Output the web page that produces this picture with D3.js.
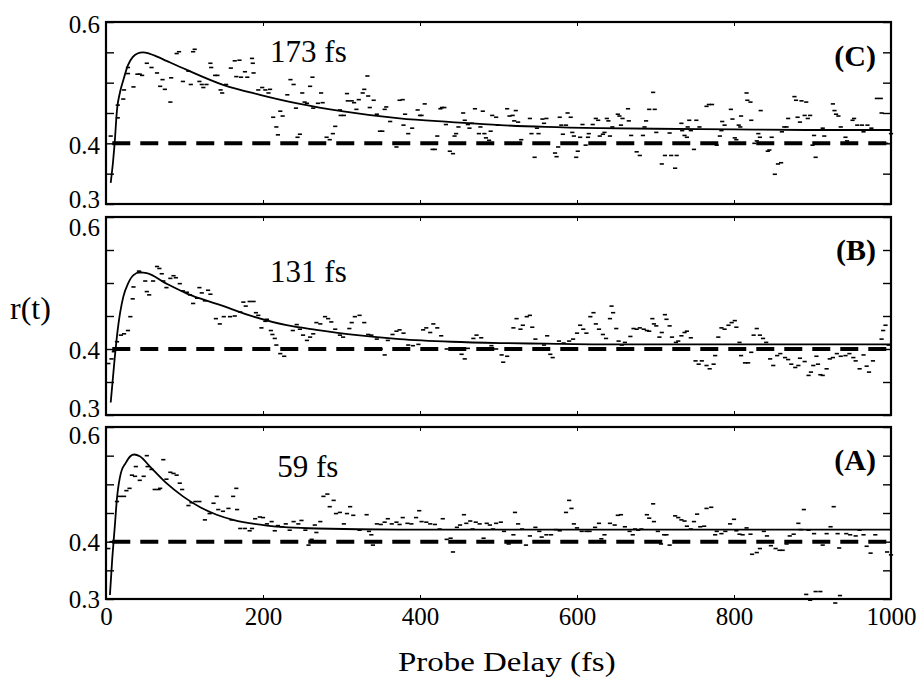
<!DOCTYPE html>
<html>
<head>
<meta charset="utf-8">
<script src="https://cdn.jsdelivr.net/npm/d3@7"></script>
<style>
  body { margin: 0; background: #fff; }
  svg text { font-family: "Liberation Serif", "Times New Roman", serif; }
</style>
</head>
<body>
<div id="chart"></div>
<script>
// Probe delay (fs) vs r(t), three panels
const xTicks = [0, 200, 400, 600, 800, 1000];
const yTicks = [0.3, 0.35, 0.4, 0.45, 0.5, 0.55, 0.6];
const yLabelled = [0.3, 0.4, 0.6];
const baseline = 0.4;

// fitted curves [delay, r]
const curveC = [[6,0.335],[9,0.37],[11,0.40],[14,0.455],[18,0.485],[22,0.504],[28,0.529],[34,0.542],[40,0.548],[47,0.55],[55,0.548],[65,0.543],[77,0.536],[103,0.521],[150,0.496],[196,0.48],[247,0.465],[300,0.453],[374,0.441],[440,0.435],[502,0.43],[560,0.427],[629,0.425],[700,0.424],[800,0.423],[900,0.422],[1000,0.422]];
const curveB = [[6,0.319],[11,0.385],[15,0.43],[22,0.479],[28,0.499],[35,0.512],[43,0.516],[52,0.515],[77,0.499],[103,0.484],[145,0.467],[188,0.449],[230,0.436],[268,0.429],[320,0.421],[374,0.415],[440,0.411],[502,0.409],[560,0.408],[629,0.407],[800,0.407],[1000,0.407]];
const curveA = [[5,0.307],[8,0.371],[11,0.423],[14,0.476],[19,0.52],[25,0.537],[31,0.549],[36,0.552],[43,0.549],[56,0.531],[77,0.502],[98,0.479],[120,0.46],[141,0.447],[162,0.438],[205,0.428],[268,0.423],[374,0.421],[600,0.421],[1000,0.421]];

// measured points [delay, r]
const pointsC = [[6,0.412],[15,0.442],[15,0.463],[22,0.473],[23,0.488],[28,0.515],[28,0.525],[35,0.493],[40,0.514],[43,0.514],[46,0.512],[52,0.532],[58,0.525],[65,0.516],[69,0.494],[72,0.505],[75,0.489],[82,0.468],[83,0.508],[90,0.548],[93,0.551],[98,0.502],[105,0.519],[108,0.497],[111,0.551],[113,0.555],[119,0.502],[122,0.497],[124,0.492],[128,0.497],[133,0.532],[134,0.525],[139,0.512],[142,0.512],[146,0.488],[148,0.483],[153,0.497],[159,0.524],[164,0.536],[166,0.51],[170,0.537],[172,0.509],[177,0.518],[180,0.509],[186,0.54],[187,0.532],[188,0.516],[194,0.488],[199,0.492],[203,0.488],[207,0.483],[209,0.489],[213,0.443],[217,0.427],[219,0.414],[222,0.453],[225,0.445],[231,0.48],[235,0.505],[239,0.497],[242,0.458],[244,0.41],[247,0.415],[250,0.483],[253,0.468],[256,0.466],[260,0.494],[263,0.509],[264,0.458],[270,0.466],[274,0.483],[276,0.467],[281,0.41],[285,0.406],[289,0.416],[292,0.428],[298,0.455],[299,0.446],[303,0.446],[307,0.482],[308,0.47],[313,0.47],[316,0.467],[319,0.456],[322,0.472],[327,0.483],[329,0.489],[333,0.511],[334,0.478],[336,0.459],[341,0.471],[345,0.448],[349,0.42],[352,0.42],[355,0.456],[357,0.46],[362,0.436],[368,0.4],[370,0.394],[374,0.471],[378,0.472],[379,0.43],[381,0.448],[385,0.416],[390,0.425],[397,0.455],[400,0.446],[402,0.446],[406,0.465],[416,0.39],[419,0.39],[422,0.412],[426,0.457],[428,0.459],[431,0.459],[433,0.431],[438,0.387],[442,0.383],[444,0.412],[446,0.416],[449,0.427],[455,0.45],[457,0.438],[461,0.431],[463,0.425],[466,0.433],[470,0.457],[475,0.416],[477,0.427],[480,0.453],[482,0.416],[484,0.409],[488,0.405],[490,0.42],[492,0.446],[497,0.443],[499,0.43],[511,0.457],[514,0.445],[518,0.446],[520,0.437],[522,0.454],[525,0.435],[529,0.406],[540,0.441],[542,0.416],[546,0.377],[549,0.425],[551,0.416],[556,0.44],[558,0.433],[561,0.441],[572,0.384],[574,0.378],[576,0.394],[578,0.443],[580,0.43],[582,0.415],[586,0.43],[588,0.45],[592,0.443],[594,0.418],[596,0.412],[599,0.377],[601,0.387],[604,0.41],[607,0.431],[611,0.397],[614,0.41],[615,0.416],[620,0.431],[624,0.441],[627,0.438],[629,0.412],[633,0.415],[635,0.418],[638,0.441],[640,0.437],[642,0.412],[645,0.427],[652,0.448],[654,0.445],[656,0.43],[658,0.441],[665,0.457],[666,0.437],[669,0.413],[676,0.386],[680,0.38],[684,0.413],[686,0.427],[688,0.437],[692,0.456],[697,0.484],[699,0.456],[701,0.418],[705,0.4],[708,0.366],[712,0.38],[718,0.417],[720,0.38],[725,0.359],[727,0.38],[733,0.433],[734,0.421],[737,0.413],[740,0.41],[741,0.427],[743,0.438],[745,0.421],[749,0.39],[752,0.438],[756,0.427],[765,0.461],[768,0.464],[772,0.464],[778,0.397],[782,0.412],[784,0.421],[785,0.436],[788,0.43],[796,0.456],[798,0.44],[801,0.409],[803,0.406],[806,0.43],[808,0.427],[809,0.445],[816,0.483],[817,0.471],[821,0.468],[822,0.438],[826,0.4],[829,0.404],[831,0.416],[833,0.41],[834,0.454],[843,0.387],[845,0.389],[848,0.41],[852,0.349],[856,0.366],[860,0.368],[861,0.419],[864,0.427],[867,0.427],[869,0.441],[877,0.477],[879,0.471],[881,0.443],[884,0.435],[886,0.47],[890,0.446],[892,0.468],[894,0.441],[897,0.446],[900,0.397],[902,0.413],[904,0.377],[907,0.4],[910,0.4],[913,0.425],[915,0.412],[926,0.465],[928,0.454],[930,0.448],[933,0.445],[936,0.427],[942,0.41],[944,0.404],[951,0.438],[953,0.441],[957,0.43],[963,0.43],[965,0.419],[970,0.43],[975,0.425],[982,0.474],[987,0.474],[988,0.45],[994,0.4],[1000,0.416]];

const pointsB = [[3,0.378],[7,0.385],[10,0.396],[14,0.411],[19,0.421],[23,0.423],[28,0.428],[31,0.449],[34,0.476],[35,0.494],[42,0.518],[43,0.516],[50,0.503],[52,0.487],[55,0.482],[60,0.503],[65,0.525],[68,0.522],[71,0.514],[73,0.503],[77,0.493],[82,0.507],[86,0.511],[89,0.508],[94,0.499],[98,0.488],[103,0.486],[107,0.482],[111,0.469],[116,0.477],[119,0.493],[122,0.485],[126,0.473],[130,0.489],[133,0.483],[140,0.446],[145,0.438],[150,0.449],[158,0.449],[164,0.45],[171,0.456],[175,0.471],[178,0.465],[183,0.472],[188,0.472],[191,0.455],[194,0.451],[198,0.432],[203,0.442],[205,0.445],[210,0.428],[212,0.422],[215,0.416],[217,0.406],[222,0.393],[227,0.389],[238,0.428],[243,0.437],[247,0.43],[251,0.421],[256,0.413],[260,0.418],[264,0.423],[268,0.44],[273,0.438],[279,0.449],[283,0.446],[287,0.441],[292,0.43],[298,0.421],[302,0.418],[310,0.431],[313,0.44],[317,0.449],[323,0.451],[329,0.44],[334,0.422],[338,0.421],[345,0.415],[350,0.4],[355,0.391],[359,0.413],[365,0.422],[370,0.427],[374,0.429],[379,0.424],[385,0.406],[391,0.405],[398,0.407],[404,0.429],[408,0.432],[413,0.425],[417,0.438],[422,0.432],[427,0.42],[434,0.4],[440,0.401],[447,0.4],[453,0.392],[457,0.385],[461,0.401],[468,0.416],[472,0.421],[478,0.417],[485,0.4],[491,0.405],[497,0.4],[504,0.391],[506,0.38],[511,0.389],[519,0.432],[523,0.446],[528,0.43],[531,0.436],[536,0.449],[540,0.451],[543,0.433],[547,0.415],[554,0.4],[558,0.406],[562,0.42],[566,0.392],[569,0.387],[577,0.412],[583,0.409],[590,0.412],[595,0.415],[600,0.424],[604,0.436],[608,0.43],[612,0.424],[617,0.449],[621,0.455],[624,0.438],[628,0.43],[633,0.422],[637,0.416],[642,0.446],[644,0.465],[646,0.455],[650,0.431],[653,0.412],[657,0.406],[661,0.41],[668,0.419],[672,0.431],[676,0.43],[680,0.432],[685,0.43],[689,0.428],[692,0.427],[696,0.446],[698,0.438],[701,0.435],[705,0.418],[708,0.425],[712,0.452],[714,0.445],[718,0.435],[721,0.418],[726,0.41],[729,0.412],[733,0.42],[737,0.425],[740,0.427],[745,0.417],[751,0.382],[755,0.377],[759,0.382],[765,0.375],[769,0.37],[774,0.377],[776,0.39],[780,0.418],[784,0.432],[788,0.43],[793,0.436],[797,0.44],[801,0.443],[803,0.433],[807,0.41],[809,0.39],[814,0.379],[818,0.379],[822,0.395],[825,0.421],[829,0.431],[833,0.421],[837,0.416],[841,0.41],[846,0.385],[850,0.375],[855,0.39],[859,0.393],[865,0.387],[869,0.384],[873,0.377],[878,0.372],[882,0.375],[884,0.386],[890,0.381],[895,0.36],[898,0.365],[901,0.375],[905,0.389],[907,0.377],[910,0.361],[913,0.36],[918,0.37],[922,0.385],[926,0.387],[931,0.393],[936,0.389],[942,0.39],[947,0.393],[952,0.387],[955,0.382],[960,0.37],[965,0.391],[969,0.374],[972,0.365],[977,0.382],[988,0.415],[990,0.428],[993,0.436],[997,0.406]];

const pointsA = [[3,0.388],[7,0.4],[14,0.47],[18,0.479],[23,0.479],[26,0.489],[30,0.493],[33,0.516],[37,0.514],[38,0.531],[43,0.507],[48,0.514],[52,0.55],[53,0.531],[58,0.526],[62,0.491],[67,0.491],[69,0.493],[73,0.543],[77,0.509],[82,0.521],[86,0.519],[90,0.516],[94,0.502],[97,0.491],[105,0.463],[109,0.468],[114,0.47],[119,0.47],[126,0.438],[132,0.449],[137,0.467],[141,0.479],[143,0.456],[149,0.453],[156,0.458],[160,0.438],[162,0.479],[166,0.493],[167,0.456],[171,0.423],[177,0.423],[183,0.419],[186,0.423],[190,0.44],[196,0.443],[200,0.442],[205,0.431],[211,0.435],[215,0.419],[219,0.428],[224,0.426],[229,0.431],[234,0.42],[239,0.435],[245,0.431],[249,0.437],[254,0.42],[258,0.394],[262,0.404],[266,0.429],[268,0.416],[273,0.435],[277,0.479],[282,0.483],[285,0.461],[290,0.472],[293,0.449],[298,0.451],[303,0.431],[307,0.449],[311,0.461],[315,0.446],[323,0.42],[332,0.447],[335,0.418],[338,0.412],[340,0.394],[345,0.431],[350,0.43],[355,0.434],[359,0.44],[364,0.431],[370,0.434],[374,0.43],[378,0.442],[384,0.432],[389,0.431],[395,0.442],[399,0.454],[402,0.435],[408,0.434],[413,0.431],[419,0.43],[425,0.422],[429,0.44],[434,0.404],[439,0.406],[442,0.382],[447,0.425],[451,0.429],[456,0.447],[459,0.432],[464,0.436],[467,0.422],[471,0.434],[476,0.431],[481,0.406],[485,0.432],[489,0.429],[493,0.422],[497,0.432],[503,0.434],[507,0.418],[513,0.396],[519,0.412],[521,0.451],[525,0.431],[530,0.422],[535,0.394],[540,0.41],[547,0.425],[552,0.418],[555,0.408],[561,0.412],[567,0.412],[573,0.421],[578,0.419],[586,0.451],[590,0.472],[593,0.458],[596,0.431],[600,0.424],[606,0.418],[612,0.418],[616,0.418],[623,0.425],[628,0.432],[631,0.405],[635,0.412],[642,0.432],[648,0.429],[652,0.446],[656,0.447],[661,0.426],[667,0.418],[671,0.412],[674,0.422],[678,0.42],[682,0.422],[689,0.447],[692,0.441],[697,0.466],[698,0.435],[703,0.418],[707,0.396],[711,0.412],[714,0.412],[718,0.394],[725,0.445],[729,0.442],[733,0.438],[737,0.436],[740,0.427],[745,0.422],[749,0.435],[753,0.448],[757,0.426],[762,0.427],[765,0.458],[771,0.46],[776,0.412],[778,0.418],[784,0.414],[789,0.418],[795,0.431],[800,0.439],[803,0.419],[807,0.413],[811,0.412],[816,0.424],[821,0.413],[823,0.378],[829,0.381],[833,0.388],[838,0.418],[842,0.41],[847,0.393],[853,0.388],[858,0.385],[862,0.385],[867,0.396],[871,0.41],[876,0.413],[882,0.432],[885,0.421],[889,0.456],[892,0.308],[895,0.42],[897,0.298],[902,0.414],[904,0.313],[910,0.313],[913,0.394],[918,0.414],[923,0.426],[927,0.461],[929,0.293],[932,0.414],[934,0.389],[935,0.306],[943,0.414],[948,0.412],[955,0.41],[960,0.42],[965,0.412],[969,0.392],[974,0.38],[980,0.412],[986,0.4],[995,0.382],[1000,0.377]];

const panelNames = ["(C)", "(B)", "(A)"];
const lifetimes = ["173 fs", "131 fs", "59 fs"];
const lifetimeDelays = [209, 209, 218];

// panel layout (pixels); nudge moves the 0.3 / 0.4 / 0.6 labels so they don't collide
const panels = [
    { name: panelNames[0], tau: lifetimes[0], tauAt: lifetimeDelays[0], top: 22, bottom: 204, tauY: 40, nameY: 44,
      nudge: { "0.3": -5, "0.4": 2, "0.6": 2 }, curve: curveC, points: pointsC },
    { name: panelNames[1], tau: lifetimes[1], tauAt: lifetimeDelays[1], top: 217, bottom: 415, tauY: 65, nameY: 43,
      nudge: { "0.3": -7, "0.4": 1, "0.6": 10 }, curve: curveB, points: pointsB },
    { name: panelNames[2], tau: lifetimes[2], tauAt: lifetimeDelays[2], top: 427, bottom: 599, tauY: 50, nameY: 43,
      nudge: { "0.3": 0, "0.4": 1, "0.6": 8 }, curve: curveA, points: pointsA }
];

const left = 106, right = 891;
const serif = "'Liberation Serif', 'Times New Roman', serif";

const svg = d3.select("#chart").append("svg")
    .attr("width", 918)
    .attr("height", 677)
    .attr("font-family", serif);

const x = d3.scaleLinear().domain([0, 1000]).range([left, right]);
const fmt = d3.format(".1f");

panels.forEach((p, i) => {
    const y = d3.scaleLinear().domain([0.3, 0.6]).range([p.bottom, p.top]);
    const g = svg.append("g");

    // reference level
    g.append("line")
        .attr("x1", x(8)).attr("x2", x(1000))
        .attr("y1", y(baseline)).attr("y2", y(baseline))
        .attr("stroke", "#000")
        .attr("stroke-width", 4)
        .attr("stroke-dasharray", "18,10");

    // data dashes
    g.selectAll("rect.pt")
        .data(p.points)
        .join("rect")
        .attr("class", "pt")
        .attr("x", d => x(d[0]) - 2.1)
        .attr("y", d => y(d[1]) - 0.8)
        .attr("width", 4.2)
        .attr("height", 1.6)
        .attr("fill", "#000");

    // fit
    g.append("path")
        .datum(p.curve)
        .attr("fill", "none")
        .attr("stroke", "#000")
        .attr("stroke-width", 1.8)
        .attr("d", d3.line().x(d => x(d[0])).y(d => y(d[1])).curve(d3.curveMonotoneX));

    // y axes (ticks inward)
    const yl = g.append("g")
        .attr("transform", `translate(${left},0)`)
        .call(d3.axisLeft(y).tickValues(yTicks).tickSizeInner(-8).tickSizeOuter(0).tickPadding(6)
            .tickFormat(d => yLabelled.some(v => Math.abs(v - d) < 1e-9) ? fmt(d) : ""));
    yl.selectAll(".tick text")
        .attr("transform", d => `translate(0,${p.nudge[fmt(d)] || 0})`);

    const yr = g.append("g")
        .attr("transform", `translate(${right},0)`)
        .call(d3.axisRight(y).tickValues(yTicks).tickSizeInner(-8).tickSizeOuter(0).tickFormat(""));

    // x axes
    const xt = g.append("g")
        .attr("transform", `translate(0,${p.top})`)
        .call(d3.axisTop(x).tickValues(xTicks).tickSizeInner(-4).tickSizeOuter(0).tickFormat(""));
    const xb = g.append("g")
        .attr("transform", `translate(0,${p.bottom})`)
        .call(d3.axisBottom(x).tickValues(xTicks).tickSizeInner(-4).tickSizeOuter(0).tickPadding(8)
            .tickFormat(i === panels.length - 1 ? d3.format("d") : ""));

    [yl, yr, xt, xb].forEach(a => {
        a.attr("font-family", serif).attr("font-size", 25);
        a.select(".domain").remove();
        a.selectAll("line").attr("stroke", "#000").attr("stroke-width", 1.4);
        a.selectAll("text").attr("fill", "#000");
    });
    [xt, xb].forEach(a => a.selectAll("line").attr("stroke-width", 1));

    // frame
    g.append("rect")
        .attr("x", left).attr("y", p.top)
        .attr("width", right - left).attr("height", p.bottom - p.top)
        .attr("fill", "none")
        .attr("stroke", "#000")
        .attr("stroke-width", 2.2);

    // annotations
    g.append("text")
        .attr("x", x(p.tauAt))
        .attr("y", p.top + p.tauY)
        .attr("font-size", 31)
        .text(p.tau);

    g.append("text")
        .attr("x", 876)
        .attr("y", p.top + p.nameY)
        .attr("text-anchor", "end")
        .attr("font-size", 30)
        .attr("font-weight", "bold")
        .text(p.name);
});

// axis titles
svg.append("text")
    .attr("x", 10)
    .attr("y", 319)
    .attr("font-size", 32)
    .text("r(t)");

// the original lettering is drawn a bit wide, so stretch it horizontally
svg.append("text")
    .attr("transform", "translate(398,671) scale(1.22,1)")
    .attr("font-size", 27)
    .text("Probe Delay (fs)");
</script>
</body>
</html>
